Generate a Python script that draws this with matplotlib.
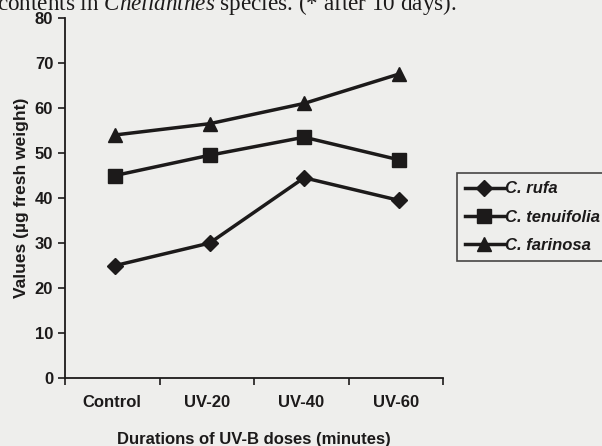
import numpy as np
import matplotlib.pyplot as plt

plt.rcParams['font.family'] = ['Liberation Sans', 'DejaVu Sans']
plt.rcParams['mathtext.fontset'] = 'custom'
plt.rcParams['mathtext.it'] = 'Liberation Serif:italic'
plt.rcParams['mathtext.rm'] = 'Liberation Serif'

doses = ['Control', 'UV-20', 'UV-40', 'UV-60']
rufa = [25, 30, 44.5, 39.5]
tenuifolia = [45, 49.5, 53.5, 48.5]
farinosa = [54, 56.5, 61, 67.5]
yticks = [0, 10, 20, 30, 40, 50, 60, 70, 80]

ink = '#1c1a1a'
paper = '#eeeeec'

fig = plt.figure(figsize=(6.02, 4.46), dpi=100, facecolor=paper)
ax = fig.add_axes([0.108, 0.152, 0.628, 0.808], facecolor=paper)

x = np.arange(len(doses)) + 0.03
ax.plot(x, rufa, color=ink, lw=2.5, marker='D', ms=8.5, label='C. rufa')
ax.plot(x, tenuifolia, color=ink, lw=2.5, marker='s', ms=10, label='C. tenuifolia')
ax.plot(x, farinosa, color=ink, lw=2.5, marker='^', ms=10.5, label='C. farinosa')

ax.set_xlim(-0.5, 3.5)
ax.set_ylim(0, 80)
ax.set_yticks(yticks)
ax.set_xticks(np.arange(len(doses) + 1) - 0.5)
ax.set_xticklabels([])
ax.set_xticks(np.arange(len(doses)), minor=True)
ax.set_xticklabels(doses, minor=True)
ax.tick_params(axis='x', which='minor', length=0, pad=12)
ax.tick_params(axis='both', which='major', length=5, width=1.2, color=ink)
ax.tick_params(axis='both', which='both', labelsize=12, labelcolor=ink)
for lab in ax.get_xticklabels(minor=True) + ax.get_yticklabels():
    lab.set_fontweight('bold')

for s in ['top', 'right']:
    ax.spines[s].set_visible(False)
for s in ['left', 'bottom']:
    ax.spines[s].set_color(ink)
    ax.spines[s].set_linewidth(1.3)

ax.set_ylabel('Values (µg fresh weight)', fontsize=12.5, fontweight='bold', color=ink, labelpad=4)
ax.set_xlabel('Durations of UV-B doses (minutes)', fontsize=12, fontweight='bold', color=ink, labelpad=16)

leg = fig.legend(loc='upper left', bbox_to_anchor=(0.759, 0.612), borderaxespad=0,
                 frameon=True, fancybox=False, edgecolor=ink, facecolor=paper,
                 handlelength=2.3, handletextpad=0.1, labelspacing=0.8, borderpad=0.5,
                 prop={'style': 'italic', 'weight': 'bold', 'size': 12})
leg.get_frame().set_linewidth(1.2)
for t in leg.get_texts():
    t.set_color(ink)

fig.text(-0.005, 0.978, r'contents in $\mathit{Cheilanthes}$ species. (* after 10 days).',
         fontsize=16.7, family='Liberation Serif', color=ink, va='baseline', ha='left')

fig.savefig('out.png', dpi=100, facecolor=paper)
